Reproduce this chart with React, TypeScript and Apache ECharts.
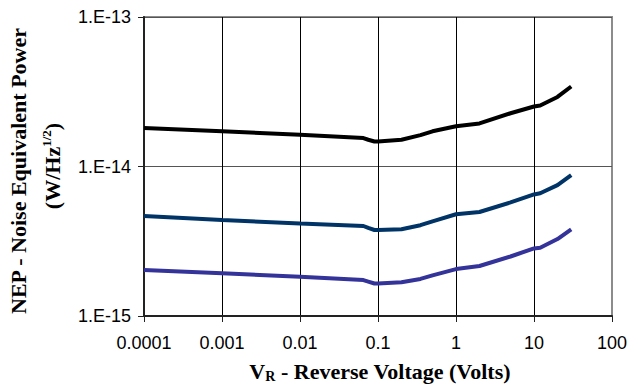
import React, { useEffect, useRef } from "react";
import * as echarts from "echarts";

// Reverse voltage (V)
const voltages = [0.0001, 0.001, 0.01, 0.065, 0.075, 0.09, 0.1, 0.2, 0.35, 0.5, 1, 2, 5, 10, 12, 20, 30];
// NEP (W/Hz^1/2) for three detectors
const nepBlack = [1.81e-14, 1.72e-14, 1.63e-14, 1.55e-14, 1.51e-14, 1.47e-14, 1.47e-14, 1.51e-14, 1.62e-14, 1.72e-14, 1.86e-14, 1.94e-14, 2.27e-14, 2.52e-14, 2.56e-14, 2.92e-14, 3.43e-14];
const nepBlue = [4.67e-15, 4.39e-15, 4.15e-15, 4.0e-15, 3.88e-15, 3.76e-15, 3.76e-15, 3.8e-15, 4.05e-15, 4.3e-15, 4.79e-15, 4.96e-15, 5.75e-15, 6.5e-15, 6.62e-15, 7.5e-15, 8.75e-15];
const nepPurple = [2.03e-15, 1.93e-15, 1.83e-15, 1.74e-15, 1.7e-15, 1.65e-15, 1.65e-15, 1.68e-15, 1.77e-15, 1.87e-15, 2.06e-15, 2.16e-15, 2.5e-15, 2.83e-15, 2.86e-15, 3.27e-15, 3.8e-15];

const xTickLabels = ["0.0001", "0.001", "0.01", "0.1", "1", "10", "100"];
const yTickLabels = ["1.E-15", "1.E-14", "1.E-13"];

const seriesColors = ["#000000", "#003366", "#333399"];

export default function App() {
  const ref = useRef<HTMLDivElement>(null);
  useEffect(() => {
    if (!ref.current) return;
    const chart = echarts.init(ref.current, null, { renderer: "svg" });
    const serifTitle = {
      fontFamily: "Liberation Serif",
      fontWeight: "bold",
      fontSize: 22,
      fill: "#000",
    };
    const mk = (data: number[], color: string) => ({
      type: "line",
      data: voltages.map((v, i) => [v, data[i]]),
      symbol: "none",
      lineStyle: { color, width: 4 },
      z: 5,
    });
    chart.setOption({
      animation: false,
      backgroundColor: "#fff",
      grid: {
        left: 144,
        top: 17,
        right: 32,
        bottom: 70,
        show: true,
        borderColor: "#8c8c8c",
        borderWidth: 2,
        containLabel: false,
        outerBoundsMode: "none",
      },
      xAxis: {
        type: "log",
        logBase: 10,
        min: 0.0001,
        max: 100,
        interval: 1,
        axisLine: { show: true, lineStyle: { color: "#222", width: 2 } },
        axisTick: { show: true, inside: false, length: 6, lineStyle: { color: "#222", width: 1 } },
        minorTick: { show: false },
        axisLabel: {
          margin: 18,
          fontFamily: "Liberation Sans",
          fontSize: 18,
          color: "#000",
          formatter: (v: number) => xTickLabels[Math.round(Math.log10(v)) + 4] ?? "",
        },
        splitLine: { show: true, showMinLine: false, showMaxLine: false, lineStyle: { color: "#000", width: 1 } },
      },
      yAxis: {
        type: "log",
        logBase: 10,
        min: 1e-15,
        max: 1e-13,
        interval: 1,
        axisLine: { show: true, lineStyle: { color: "#222", width: 2 } },
        axisTick: { show: true, inside: false, length: 6, lineStyle: { color: "#222", width: 1 } },
        minorTick: { show: false },
        axisLabel: {
          margin: 13,
          fontFamily: "Liberation Sans",
          fontSize: 18,
          color: "#000",
          formatter: (v: number) => yTickLabels[Math.round(Math.log10(v)) + 15] ?? "",
        },
        splitLine: { show: true, showMinLine: false, showMaxLine: false, lineStyle: { color: "#555", width: 1 } },
      },
      series: [mk(nepBlack, seriesColors[0]), mk(nepBlue, seriesColors[1]), mk(nepPurple, seriesColors[2])],
      graphic: [
        {
          type: "text",
          x: 380,
          y: 371,
          style: {
            ...serifTitle,
            text: "V{sub|R} - Reverse Voltage (Volts)",
            lineHeight: 24,
            align: "center",
            verticalAlign: "middle",
            textAlign: "center",
            textVerticalAlign: "middle",
            rich: {
              sub: { fontFamily: "Liberation Serif", fontWeight: "bold", fontSize: 14, lineHeight: 10, verticalAlign: "bottom" },
            },
          },
        },
        {
          type: "text",
          x: 18,
          y: 171,
          rotation: Math.PI / 2,
          style: {
            ...serifTitle,
            text: "NEP - Noise Equivalent Power",
            align: "center",
            verticalAlign: "middle",
            textAlign: "center",
            textVerticalAlign: "middle",
          },
        },
        {
          type: "text",
          x: 52,
          y: 166,
          rotation: Math.PI / 2,
          style: {
            ...serifTitle,
            text: "(W/Hz{sup|1/2})",
            lineHeight: 24,
            align: "center",
            verticalAlign: "middle",
            textAlign: "center",
            textVerticalAlign: "middle",
            rich: {
              sup: { fontFamily: "Liberation Serif", fontWeight: "bold", fontSize: 13, lineHeight: 12, verticalAlign: "top" },
            },
          },
        },
      ],
    });
    return () => chart.dispose();
  }, []);
  return <div ref={ref} style={{ position: "fixed", left: 0, top: 0, width: 644, height: 386 }} />;
}
